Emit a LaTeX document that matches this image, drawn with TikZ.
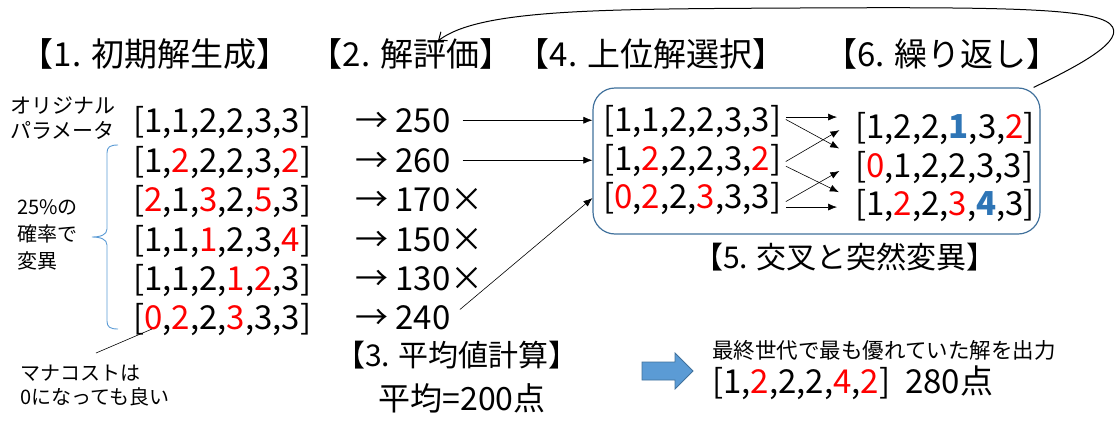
\documentclass[tikz,border=0pt]{standalone}
\usepackage{fontspec}
\setmainfont{Noto Sans CJK JP}
\usetikzlibrary{arrows.meta,calc}
\definecolor{boxblue}{HTML}{41719C}
\definecolor{lightblue}{HTML}{5B9BD5}
\definecolor{digblue}{HTML}{2E75B6}
\newcommand\rd[1]{\textcolor{red}{#1}}
\newcommand\bd[1]{\textcolor{digblue}{\bfseries #1}}
\tikzset{
  head/.style={anchor=base, font=\fontsize{33}{36}\selectfont, inner sep=0pt},
  subhead/.style={anchor=base, font=\fontsize{30}{34}\selectfont, inner sep=0pt},
  lst/.style={anchor=base west, font=\fontsize{33}{36}\selectfont, inner sep=0pt},
  note/.style={anchor=west, align=left, inner sep=0pt},
  conn/.style={-{Latex[length=9pt,width=7pt]}, line width=0.6pt},
}
\begin{document}
\begin{tikzpicture}[x=1pt,y=-1pt]
\useasboundingbox (0,0) rectangle (1115,423);
% headings
\node[head] (h1) at (155,66) {【1. 初期解生成】};
\node[head] (h2) at (411,66) {【2. 解評価】};
\node[head] (h4) at (651,66) {【4. 上位解選択】};
\node[head] (h6) at (942,66) {【6. 繰り返し】};
\node[subhead] (h5) at (845,268) {【5. 交叉と突然変異】};
\node[subhead] (h3) at (457,366) {【3. 平均値計算】};
\node[anchor=base, inner sep=0pt, font=\fontsize{32}{36}\selectfont] (avg) at (462,410) {平均=200点};
% notes
\node[note, font=\fontsize{21}{25}\selectfont] (orig) at (10,118) {オリジナル\\パラメータ};
\node[note, font=\fontsize{20}{27}\selectfont] (rate) at (17,235) {25\%の\\確率で\\変異};
\node[note, font=\fontsize{20}{24}\selectfont] (mana) at (20,386) {マナコストは\\0になっても良い};
% initial population
\node[lst] (r1) at (133,132) {[1,1,2,2,3,3]};
\node[lst] (r2) at (133,172) {[1,\rd{2},2,2,3,\rd{2}]};
\node[lst] (r3) at (133,211) {[\rd{2},1,\rd{3},2,\rd{5},3]};
\node[lst] (r4) at (133,251) {[1,1,\rd{1},2,3,\rd{4}]};
\node[lst] (r5) at (133,290) {[1,1,2,\rd{1},\rd{2},3]};
\node[lst] (r6) at (133,329) {[\rd{0},\rd{2},2,\rd{3},3,3]};
% scores
\node[lst] (s1) at (355,132) {→ 250};
\node[lst] (s2) at (355,172) {→ 260};
\node[lst] (s3) at (355,211) {→ 170×};
\node[lst] (s4) at (355,251) {→ 150×};
\node[lst] (s5) at (355,290) {→ 130×};
\node[lst] (s6) at (355,329) {→ 240};
% box
\node[draw=boxblue, line width=1.2pt, rounded corners=22pt, minimum width=447pt, minimum height=146pt] (box) at (816.5,161) {};
\node[lst] (a1) at (603,131) {[1,1,2,2,3,3]};
\node[lst] (a2) at (603,170) {[1,\rd{2},2,2,3,\rd{2}]};
\node[lst] (a3) at (603,208) {[\rd{0},\rd{2},2,\rd{3},3,3]};
\node[lst] (c1) at (855,138) {[1,2,2,\bd{1},3,\rd{2}]};
\node[lst] (c2) at (855,177) {[\rd{0},1,2,2,3,3]};
\node[lst] (c3) at (855,215) {[1,\rd{2},2,\rd{3},\bd{4},3]};
% brace
\draw[lightblue, line width=0.9pt] (118,145) .. controls (110,145) and (107,147) .. (107,153) -- (107,229) .. controls (107,235) and (100,237) .. (92,237) .. controls (100,237) and (107,239) .. (107,245) -- (107,321) .. controls (107,327) and (110,329) .. (118,329);
% pointer line
\coordinate (manatip) at (96,353);
\draw[line width=0.6pt] ([xshift=19pt]r6.base west) -- (manatip);
% selection arrows
\draw[conn, shorten <=12pt] (s1.east) -- (s1.east -| box.west);
\draw[conn, shorten <=12pt] (s2.east) -- (s2.east -| box.west);
\draw[conn, shorten <=12pt] (s6.east) -- (a3.west -| box.west);
% crossover arrows
\draw[conn, shorten <=5pt, shorten >=18pt] ([yshift=4pt]a1.east) -- ([yshift=11pt]c1.west);
\draw[conn, shorten <=5pt, shorten >=18pt] ([yshift=4pt]a1.east) -- ([yshift=10pt]c2.west);
\draw[conn, shorten <=5pt, shorten >=18pt] ([yshift=-4pt]a2.east) -- ([yshift=7pt]c1.west);
\draw[conn, shorten <=5pt, shorten >=18pt] ([yshift=-4pt]a2.east) -- ([yshift=5pt]c3.west);
\draw[conn, shorten <=5pt, shorten >=18pt] ([yshift=-6pt]a3.east) -- ([yshift=5pt]c2.west);
\draw[conn, shorten <=5pt, shorten >=18pt] ([yshift=-9pt]a3.east) -- ([yshift=-2pt]c3.west);
% loop arrow
\draw[-{Straight Barb[length=7pt,width=11pt]}, line width=1pt] ([xshift=-7pt]box.north east) .. controls (1078,66) and (1128,40) .. (1110,24) .. controls (1092,8) and (1000,7) .. (800,8) .. controls (600,9) and (480,9) .. ([xshift=27pt,yshift=-3pt]h2.north);
% result
\fill[lightblue, draw=boxblue, line width=0.8pt] (642,362) -- (675,362) -- (675,353) -- (693,371) -- (675,389) -- (675,380) -- (642,380) -- cycle;
\node[anchor=base west, inner sep=0pt, font=\fontsize{21.5}{24}\selectfont] (best) at (712,358) {最終世代で最も優れていた解を出力};
\node[lst] (res) at (712,393) {[1,\rd{2},2,2,\rd{4},\rd{2}]\ \ 280点};
\end{tikzpicture}
\end{document}
